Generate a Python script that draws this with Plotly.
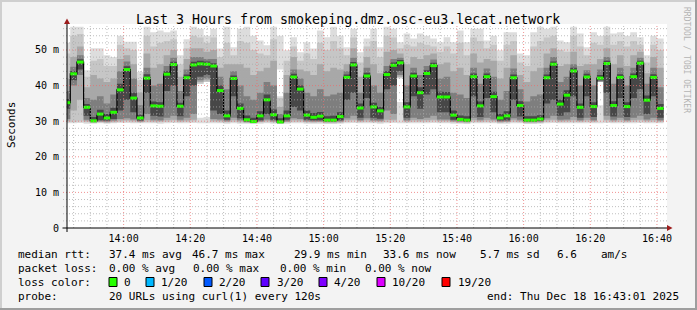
import plotly.graph_objects as go
from datetime import datetime, timedelta

# ---------------- data ----------------
# one value per 120 s step, first step 13:42-13:44
median = [35.2,43.3,46.6,33.9,30.1,32.0,30.9,32.5,38.8,44.5,
          36.5,30.9,42.1,34.3,34.2,43.2,45.9,34.2,42.2,45.8,
          46.1,46.0,45.5,38.6,31.5,42.0,33.6,30.4,29.9,31.5,
          36.0,31.8,29.8,31.5,42.4,39.0,31.7,31.1,31.4,30.3,
          30.3,31.3,42.3,45.8,33.7,42.7,34.0,32.9,43.1,45.7,
          46.4,34.0,42.7,38.0,43.4,45.6,36.8,36.8,31.7,30.5,
          30.3,42.5,34.3,42.5,36.9,30.9,31.5,42.2,34.4,30.3,
          30.3,30.6,42.2,46.0,34.8,37.3,44.1,33.9,42.4,34.1,
          42.1,46.2,34.4,42.3,34.1,42.5,46.3,35.9,42.3,33.6]

# smoke bands (outer -> inner), upper edges
hi1 = [52,56.5,56.5,44.3,50.5,50.5,48.5,48,54,52.3,
       52.3,43.8,56.5,55,55.5,55,55.5,48.5,53,56.5,
       56,54,56,50.4,56.5,50.8,56,56.5,54,52.7,
       51.3,56.5,54,49.9,53.6,49.4,52.2,50.4,55.5,53.6,
       56.5,54,50.8,56,49.4,53.2,56,50.8,56.5,56,
       52.2,54.6,53.2,54.6,54,53.2,52.2,53.6,52.2,55.5,
       52.2,56,56,52.7,54,49.9,55,55,49,48.5,
       55,56.5,56,56.5,52.7,52.2,56.5,54.6,50.8,55,
       54,56.5,54.6,55,54,55,53.6,48.5,54,53.2]
hi2 = [49,54,54.5,42.5,47,47.5,45.5,45.5,51.5,50.5,
       50,41.5,54,51,52,52.5,53,46,50.5,54,
       53.5,52,53.5,48,52,48.5,52.5,52,50,49,
       48.5,53,36.5,47,51,47,49,47.5,52,50,
       52.5,50.5,48.5,53.5,46.5,51,52.5,48,54,53.5,
       50.5,51.5,51,52,51.5,51,49.5,51,49,52,
       48.5,53.5,52.5,50.5,51.5,47,51.5,52.5,46.5,45.5,
       51,52.5,53.5,54,50,49.5,54,51,48.5,52,
       51.5,54,51.5,52.5,51,52.5,51.5,46.5,51.5,50]
hi3 = [42,48,51,39.5,43,42,41,42,47.5,48.5,
       46,38,49,45,46,48.5,50,42.5,47.5,50.5,
       50.5,49.5,50,45,46,46,46,45,43,44,
       45,47,34,43,48,44.5,44,43,46,44,
       45,44.5,46,50.5,42.5,48,46,43.5,49.5,50,
       49,46,48,47.5,48.5,49,46,46.5,44,45,
       43,49,46.5,47.5,47,42,45,48.5,43,41,
       44,45,49,50.5,45.5,46,49.5,45.5,46,46,
       47.5,50.5,46,48.5,45.5,48.5,49.5,43.5,48,45]
hi4 = [38.5,45.3,48.5,36.5,36,37,35,37.5,44,46.8,
       42,34.5,45,40,40.5,45.5,47.8,38.5,44.5,48,
       48,47.5,47.5,42.5,39,44,40,37,36,38,
       41,40,32,38,44.5,42,38,37,39,37,
       37.5,38,44,47.8,38,45,40,38,45.5,47.5,
       47.8,40,45,43,45.5,47.3,42,42.5,38,37.5,
       36.5,45,40.5,44.8,42.5,36,38.5,44.8,39,35.5,
       37,37.5,45,48,41,42.5,46,40,44.3,40,
       44.5,48,40.5,45,40,45,47.8,40.5,45,39.5]
hi5 = [36.2,44.1,47.4,34.8,31.2,33.2,32,33.8,40.5,45.4,
       38,31.8,43.2,35.5,35.3,44.0,46.7,35.2,43.1,46.7,
       47,46.8,46.3,40,33,42.8,35,31.6,31,32.8,
       37.5,33.3,30.8,33,43.3,40,33,32.3,32.6,31.4,
       31.5,32.5,43.1,46.6,35,43.6,35.2,34,44,46.5,
       47.2,35.3,43.6,39.5,44.3,46.4,38.3,38.2,33,31.6,
       31.4,43.4,35.5,43.4,38.3,32,32.8,43.1,35.6,31.4,
       31.4,31.7,43.1,46.8,36,38.7,45,35,43.3,35.3,
       43,47,35.6,43.2,35.3,43.4,47,37.2,43.2,34.8]
# smoke bands, lower edges
lo5 = [33.5,41.5,44.5,31.5,29.9,30.3,30.2,30.6,33,36,
       32.5,30.2,38,31.5,31.3,38.5,40,31.4,37,40,
       42.5,43,33,32,30.4,37,30.8,30.0,29.7,30.3,
       32,30.4,29.6,30.4,34,33,30.4,30.3,30.3,30.0,
       30.0,30.3,36,38,31,36.5,31,30.7,39,40,
       44,31,37,33.5,37.5,39,32.5,32.5,30.4,30.1,
       30.0,37,31.2,36.5,32.5,30.2,30.3,36,31.3,30.0,
       30.0,30.1,35,36,31.5,32.5,37,31,37,31.2,
       41.5,38,31.3,36.5,31.2,36.5,39,32,37,31]
lo4 = [30.6,40,43,30.4,29.8,30.0,29.9,30.2,30.6,30.8,
       30.5,30.0,32,30.4,30.3,31,31.5,30.4,31,32,
       41.5,42,30.6,30.5,30.1,31,30.3,29.8,29.6,30.0,
       30.5,30.1,29.5,30.0,30.8,30.6,30.1,30.0,30.0,29.8,
       29.8,30.0,30.8,31.5,30.3,30.8,30.3,30.2,33,32,
       43,30.3,31,30.6,31,31.5,30.5,30.5,30.1,29.9,
       29.8,31,30.4,31,30.5,29.9,30.0,30.8,30.4,29.8,
       29.8,29.9,30.8,31.5,30.4,30.5,31.2,30.3,31,30.3,
       41.2,31.5,30.4,31,30.3,31,31.5,30.5,31,30.3]
lo3 = [30.1,33,36,30.0,29.6,29.8,29.7,29.9,30.2,30.3,
       30.1,29.8,30.3,30.0,30.0,30.3,30.4,30.0,30.2,30.4,
       41,41.5,30.2,30.1,29.8,30.3,29.9,29.6,29.5,29.8,
       30.1,29.8,29.4,29.8,30.3,30.2,29.8,29.8,29.8,29.6,
       29.6,29.8,30.3,30.4,30.0,30.3,30.0,29.9,30.4,30.4,
       42.5,30.0,30.3,30.2,30.3,30.4,30.1,30.1,29.8,29.7,
       29.6,30.3,30.0,30.3,30.1,29.7,29.8,30.3,30.0,29.6,
       29.6,29.7,30.3,30.4,30.0,30.1,30.3,30.0,30.3,30.0,
       41,30.4,30.0,30.3,30.0,30.3,30.4,30.1,30.3,30.0]
lo2 = [29.7,29.8,29.9,29.7,29.5,29.6,29.5,29.6,29.8,29.9,
       29.7,29.6,29.8,29.7,29.7,29.8,29.9,29.7,29.8,29.9,
       40.5,41,29.8,29.7,29.6,29.8,29.6,29.5,29.4,29.6,
       29.7,29.6,29.3,29.6,29.8,29.8,29.6,29.5,29.6,29.4,
       29.4,29.5,29.8,29.9,29.7,29.8,29.7,29.6,29.8,29.9,
       42.2,29.7,29.8,29.8,29.8,29.9,29.7,29.7,29.6,29.5,
       29.4,29.8,29.7,29.8,29.7,29.5,29.6,29.8,29.7,29.4,
       29.4,29.5,29.8,29.9,29.7,29.7,29.8,29.7,29.8,29.7,
       41,29.9,29.7,29.8,29.7,29.8,29.9,29.7,29.8,29.7]
lo1 = [29.4,29.4,29.5,29.3,29.3,29.4,29.3,29.4,29.5,29.5,
       29.4,29.4,29.4,29.4,29.3,29.4,29.5,29.4,29.4,29.5,
       29.4,29.4,29.4,29.4,29.3,29.4,29.3,29.3,29.2,29.3,
       29.4,29.3,29.2,29.3,29.4,29.4,29.3,29.3,29.3,29.2,
       29.2,29.3,29.4,29.5,29.4,29.4,29.4,29.3,29.4,29.5,
       29.4,29.4,29.4,29.4,29.4,29.5,29.4,29.4,29.3,29.3,
       29.2,29.4,29.4,29.4,29.4,29.3,29.3,29.4,29.4,29.2,
       29.2,29.3,29.4,29.5,29.4,29.4,29.4,29.4,29.4,29.4,
       29.4,29.5,29.4,29.4,29.4,29.4,29.5,29.4,29.4,29.4]
# white holes inside the smoke
gap_step = [20, 21, 32, 50, 80]
gap_lo = [31.0, 31.2, 37.0, 35.4, 34.5]
gap_hi = [40.5, 41.0, 44.5, 42.0, 41.0]

band_colors = ["#dddddd", "#c6c6c6", "#a8a8a8", "#7e7e7e", "#474747"]

y_ticks = [0, 10, 20, 30, 40, 50]
y_ticktext = ["0", "10 m", "20 m", "30 m", "40 m", "50 m"]

loss_labels = ["0", "1/20", "2/20", "3/20", "4/20", "10/20", "19/20"]
loss_colors = ["#26ff00", "#00b8ff", "#0059ff", "#5e00ff", "#7e00ff", "#dd00ff", "#ff0000"]

title = "Last 3 Hours from smokeping.dmz.osc-eu3.lecat.network"

# ---------------- geometry helpers ----------------
W, H = 697, 310
PL, PR, PT, PB = 67, 667, 24, 228   # plot area in pixels
YMAX = 57.3

def px(x):
    return (x - PL) / (PR - PL)

def py(y):
    return (PB - y) / (PB - PT)

t0 = datetime(2025, 12, 18, 13, 42, 0)
step = timedelta(seconds=120)
edges = [t0 + i * step for i in range(len(median) + 1)]
x_start = datetime(2025, 12, 18, 13, 43, 1)
x_end = datetime(2025, 12, 18, 16, 43, 1)

def ext(v):
    return list(v) + [v[-1]]

fig = go.Figure()

bands = [(lo1, hi1), (lo2, hi2), (lo3, hi3), (lo4, hi4), (lo5, hi5)]
for i, (lo, hi) in enumerate(bands):
    fig.add_trace(go.Scatter(x=edges, y=ext(lo), mode="lines",
                             line=dict(width=0, shape="hv"), hoverinfo="skip"))
    fig.add_trace(go.Scatter(x=edges, y=ext(hi), mode="lines",
                             line=dict(width=0, shape="hv"), fill="tonexty",
                             fillcolor=band_colors[i], hoverinfo="skip"))
    if i == 0:
        gx, gy = [], []
        for k, a, b in zip(gap_step, gap_lo, gap_hi):
            gx += [edges[k], edges[k + 1], edges[k + 1], edges[k], edges[k], None]
            gy += [a, a, b, b, a, None]
        fig.add_trace(go.Scatter(x=gx, y=gy, mode="lines", line=dict(width=0),
                                 fill="toself", fillcolor="#ffffff", hoverinfo="skip"))

# median staircase
fig.add_trace(go.Scatter(x=edges, y=ext(median), mode="lines",
                         line=dict(width=1.2, shape="hv", color="#000000"), hoverinfo="skip"))
mx, my = [], []
for k, m in enumerate(median):
    mx += [edges[k], edges[k + 1], None]
    my += [m, m, None]
fig.add_trace(go.Scatter(x=mx, y=my, mode="lines",
                         line=dict(width=3, color=loss_colors[0]), hoverinfo="skip"))

shapes = []
# grid (drawn above the smoke, as rrdtool does)
minor_c = "rgba(170,170,170,0.75)"
major_c = "rgba(235,110,110,0.75)"
gt = datetime(2025, 12, 18, 13, 45)
while gt <= x_end:
    major = gt.minute % 20 == 0
    shapes.append(dict(type="line", xref="x", yref="paper", x0=gt, x1=gt, y0=0, y1=1,
                       line=dict(color=major_c if major else minor_c, width=1, dash="1px,2px"),
                       layer="above"))
    gt += timedelta(minutes=5)
for v in range(2, 57, 2):
    major = v % 10 == 0
    shapes.append(dict(type="line", xref="paper", yref="y", x0=px(63), x1=1, y0=v, y1=v,
                       line=dict(color=major_c if major else minor_c, width=1, dash="1px,2px"),
                       layer="above"))
# axes
shapes.append(dict(type="line", xref="paper", yref="paper", x0=px(62.5), x1=px(668), y0=0, y1=0,
                   line=dict(color="#000000", width=1), layer="above"))
shapes.append(dict(type="line", xref="paper", yref="paper", x0=0, x1=0, y0=py(232), y1=py(22),
                   line=dict(color="#000000", width=1), layer="above"))
arrow_c = "#9c1c1c"
shapes.append(dict(type="path", xref="paper", yref="paper",
                   path=f"M {px(64)},{py(24)} L {px(70)},{py(24)} L {px(67)},{py(18.5)} Z",
                   fillcolor=arrow_c, line=dict(width=0), layer="above"))
shapes.append(dict(type="path", xref="paper", yref="paper",
                   path=f"M {px(667)},{py(225)} L {px(667)},{py(231)} L {px(672.5)},{py(228)} Z",
                   fillcolor=arrow_c, line=dict(width=0), layer="above"))
# 3-D frame of the canvas
shapes.append(dict(type="rect", xref="paper", yref="paper", x0=px(0), x1=px(697), y0=py(0), y1=py(2),
                   fillcolor="#cfcfcf", line=dict(width=0), layer="above"))
shapes.append(dict(type="rect", xref="paper", yref="paper", x0=px(0), x1=px(2), y0=py(0), y1=py(310),
                   fillcolor="#cfcfcf", line=dict(width=0), layer="above"))
shapes.append(dict(type="rect", xref="paper", yref="paper", x0=px(695), x1=px(697), y0=py(0), y1=py(310),
                   fillcolor="#9e9e9e", line=dict(width=0), layer="above"))
shapes.append(dict(type="rect", xref="paper", yref="paper", x0=px(0), x1=px(697), y0=py(308), y1=py(310),
                   fillcolor="#9e9e9e", line=dict(width=0), layer="above"))

mono = "DejaVu Sans Mono"
ann = []
def text(s, x, y, size=11, anchor="left", color="#000000", angle=0):
    ann.append(dict(text=s, x=px(x), y=py(y), xref="paper", yref="paper", showarrow=False,
                    xanchor=anchor, yanchor="middle", textangle=angle,
                    font=dict(family=mono, size=size, color=color)))

text(title, 348, 19, size=13.3, anchor="center")
text("Seconds", 11, 125, size=11, anchor="center", angle=-90)
text("RRDTOOL / TOBI OETIKER", 687, 60, size=8, anchor="center", color="#b4b4b4", angle=90)

legend_rows = [
    (254, [("median rtt:", 17), ("37.4 ms avg", 108), ("46.7 ms max", 191), ("29.9 ms min", 293),
           ("33.6 ms now", 382), ("5.7 ms sd", 479), ("6.6", 556), ("am/s", 600)]),
    (268, [("packet loss:", 17), ("0.00 % avg", 108), ("0.00 % max", 192), ("0.00 % min", 279),
           ("0.00 % now", 364)]),
    (282, [("loss color:", 17)]),
    (296, [("probe:", 17), ("20 URLs using curl(1) every 120s", 108)]),
]
for yy, items in legend_rows:
    for s, xx in items:
        text(s, xx - 1, yy)
text("end: Thu Dec 18 16:43:01 2025", 681, 296, anchor="right")

box_x = [109, 146, 204, 261, 319, 377, 442]
lab_x = [123, 160, 218, 275.5, 333, 391, 457]
for bx, lx, lab, col in zip(box_x, lab_x, loss_labels, loss_colors):
    shapes.append(dict(type="rect", xref="paper", yref="paper", x0=px(bx), x1=px(bx + 8),
                       y0=py(277.5), y1=py(286.5), fillcolor=col,
                       line=dict(color="#000000", width=1), layer="above"))
    text(lab, lx - 1, 282)

fig.update_layout(
    width=W, height=H,
    margin=dict(l=PL, r=W - PR, t=PT, b=H - PB, pad=0),
    paper_bgcolor="#f3f3f3", plot_bgcolor="#ffffff",
    showlegend=False,
    font=dict(family=mono, size=10, color="#000000"),
    shapes=shapes, annotations=ann,
)
fig.update_xaxes(type="date", range=[x_start, x_end], tickformat="%H:%M",
                 tick0=datetime(2025, 12, 18, 14, 0), dtick=20 * 60 * 1000,
                 showgrid=False, zeroline=False, showline=False, ticks="",
                 tickfont=dict(family=mono, size=10, color="#000000"), ticklabelstandoff=3)
fig.update_yaxes(range=[0, YMAX], tickvals=y_ticks, ticktext=y_ticktext,
                 showgrid=False, zeroline=False, showline=False, ticks="",
                 tickfont=dict(family=mono, size=10, color="#000000"), ticklabelstandoff=7)

fig.write_html("out.html")
